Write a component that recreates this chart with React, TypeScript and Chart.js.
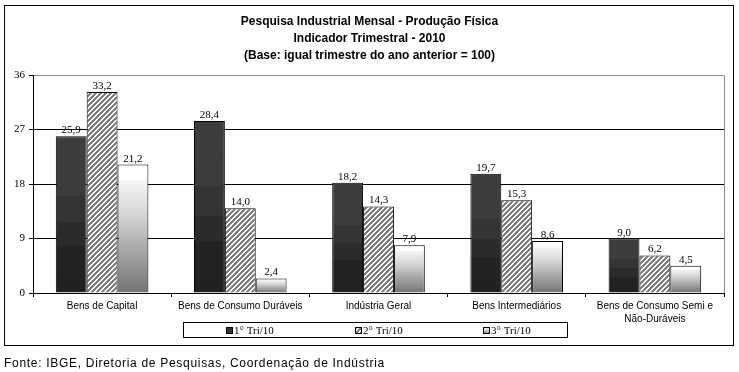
import React, { useEffect, useRef } from 'react';
import { Chart, registerables } from 'chart.js';

Chart.register(...registerables);

// ---- data ----
const categories: (string | string[])[] = [
  'Bens de Capital',
  'Bens de Consumo Duráveis',
  'Indústria Geral',
  'Bens Intermediários',
  ['Bens de Consumo Semi e', 'Não-Duráveis'],
];
const seriesNames = ['1° Tri/10', '2° Tri/10', '3° Tri/10'];
const tri1 = [25.9, 28.4, 18.2, 19.7, 9.0];
const tri2 = [33.2, 14.0, 14.3, 15.3, 6.2];
const tri3 = [21.2, 2.4, 7.9, 8.6, 4.5];
const yTicks = [0, 9, 18, 27, 36];
const titleLines = [
  'Pesquisa Industrial Mensal - Produção Física',
  'Indicador Trimestral - 2010',
  '(Base: igual trimestre do ano anterior = 100)',
];
const sourceNote = 'Fonte: IBGE, Diretoria de Pesquisas, Coordenação de Indústria';

// ---- styles ----
const darkStops: [number, string][] = [
  [0, '#212121'], [0.3, '#232323'], [0.301, '#2b2b2b'], [0.45, '#2b2b2b'],
  [0.451, '#343434'], [0.62, '#343434'], [0.621, '#3c3c3c'], [1, '#3d3d3d'],
];
const lightStops: [number, string][] = [
  [0, '#747474'], [0.3, '#a2a2a2'], [0.6, '#d4d4d4'], [0.88, '#f6f6f6'], [0.881, '#ffffff'], [1, '#ffffff'],
];

function makeHatch(): CanvasPattern | string {
  const n = 5;
  const c = document.createElement('canvas');
  c.width = n;
  c.height = n;
  const g = c.getContext('2d');
  if (!g) return '#aaa';
  for (let y = 0; y < n; y++) {
    for (let x = 0; x < n; x++) {
      g.fillStyle = (x + y) % n < 2 ? '#ffffff' : '#808080';
      g.fillRect(x, y, 1, 1);
    }
  }
  const p = g.createPattern(c, 'repeat');
  return p || '#aaa';
}

function barGradient(stops: [number, string][], fallback: string) {
  return (ctx: any) => {
    const chart = ctx.chart;
    const y = chart.scales && chart.scales.y;
    if (!y || typeof ctx.raw !== 'number') return fallback;
    const top = y.getPixelForValue(ctx.raw);
    const base = y.getPixelForValue(0);
    if (!isFinite(top) || !isFinite(base) || top === base) return fallback;
    const g = chart.ctx.createLinearGradient(0, base, 0, top);
    stops.forEach(([o, c]) => g.addColorStop(o, c));
    return g;
  };
}

const fmt = (v: number) => v.toFixed(1).replace('.', ',');

export default function App() {
  const ref = useRef<HTMLCanvasElement | null>(null);

  useEffect(() => {
    const canvas = ref.current;
    if (!canvas) return;
    const hatch = makeHatch();

    const decor = {
      id: 'decor',
      beforeDraw(chart: any) {
        const c = chart.ctx;
        c.save();
        c.fillStyle = '#fff';
        c.fillRect(0, 0, chart.width, chart.height);
        c.restore();
      },
      afterDatasetsDraw(chart: any) {
        const c = chart.ctx;
        c.save();
        c.font = '11px "Liberation Serif", serif';
        c.fillStyle = '#000';
        c.textAlign = 'center';
        c.textBaseline = 'alphabetic';
        chart.data.datasets.forEach((ds: any, di: number) => {
          const meta = chart.getDatasetMeta(di);
          meta.data.forEach((el: any, i: number) => {
            c.fillText(fmt(ds.data[i]), el.x, el.y - 3);
          });
        });
        c.restore();
      },
      afterDraw(chart: any) {
        const c = chart.ctx;
        const a = chart.chartArea;
        c.save();
        // plot right border
        c.strokeStyle = '#888';
        c.lineWidth = 1;
        c.beginPath();
        c.moveTo(Math.round(a.right) + 0.5, Math.round(a.top) + 0.5);
        c.lineTo(Math.round(a.right) + 0.5, Math.round(a.bottom));
        c.stroke();
        // outer frame
        c.strokeStyle = '#000';
        c.strokeRect(4.5, 5.5, 729, 340);
        // title
        c.fillStyle = '#000';
        c.textAlign = 'center';
        c.textBaseline = 'alphabetic';
        c.font = 'bold 12px "Liberation Sans Narrow", "Liberation Sans", sans-serif';
        titleLines.forEach((t, i) => c.fillText(t, 369.5, 25 + i * 17));
        // legend
        const bx = 183, by = 322, bw = 384, bh = 15;
        c.strokeStyle = '#000';
        c.strokeRect(bx + 0.5, by + 0.5, bw, bh);
        const fills = [
          '#333333',
          hatch,
          (() => {
            const g = c.createLinearGradient(0, 334, 0, 328);
            g.addColorStop(0, '#8a8a8a');
            g.addColorStop(1, '#f0f0f0');
            return g;
          })(),
        ];
        c.font = '11px "Liberation Serif", serif';
        c.textAlign = 'left';
        c.textBaseline = 'middle';
        seriesNames.forEach((n, i) => {
          const mx = bx + 43 + i * 128.5;
          c.fillStyle = fills[i] as any;
          c.fillRect(Math.round(mx), 327, 7, 7);
          c.strokeStyle = '#000';
          c.strokeRect(Math.round(mx) + 0.5, 327.5, 6, 6);
          c.fillStyle = '#000';
          c.fillText(n, Math.round(mx) + 8, 331);
        });
        // footnote
        c.font = '12px "Liberation Sans", Arial, sans-serif';
        c.textAlign = 'left';
        c.textBaseline = 'alphabetic';
        try {
          (c as any).letterSpacing = '0.7px';
        } catch (e) {
          /* ignore */
        }
        c.fillText(sourceNote, 4, 367);
        c.restore();
      },
    };

    const chart = new Chart(canvas, {
      type: 'bar',
      data: {
        labels: categories as any,
        datasets: [
          {
            label: seriesNames[0],
            data: tri1,
            backgroundColor: barGradient(darkStops, '#333') as any,
            borderColor: '#000',
            borderWidth: 1,
          },
          {
            label: seriesNames[1],
            data: tri2,
            backgroundColor: hatch as any,
            borderColor: '#000',
            borderWidth: 1,
          },
          {
            label: seriesNames[2],
            data: tri3,
            backgroundColor: barGradient(lightStops, '#ddd') as any,
            borderColor: '#000',
            borderWidth: 1,
          },
        ],
      },
      options: {
        responsive: false,
        animation: false,
        devicePixelRatio: 1,
        categoryPercentage: 0.67,
        barPercentage: 1.0,
        layout: { padding: { left: 4, right: 15, top: 75, bottom: 49 } },
        plugins: {
          legend: { display: false },
          title: { display: false },
          tooltip: { enabled: false },
        },
        scales: {
          x: {
            offset: true,
            grid: {
              display: true,
              drawOnChartArea: false,
              drawTicks: true,
              tickLength: 4,
              color: '#000',
              offset: true,
            },
            border: { display: true, color: '#000' },
            ticks: {
              font: { family: '"Liberation Sans", Arial, sans-serif', size: 10, lineHeight: 1.3 },
              color: '#000',
              padding: 3,
              maxRotation: 0,
              autoSkip: false,
            },
            afterFit: (s: any) => {
              s.height = 30;
            },
          },
          y: {
            min: 0,
            max: 36,
            afterBuildTicks: (s: any) => {
              s.ticks = yTicks.map((v) => ({ value: v }));
            },
            grid: {
              color: (ctx: any) => (ctx.tick && ctx.tick.value === 36 ? '#8c8c8c' : '#000'),
              tickColor: '#000',
              tickLength: 4,
            },
            border: { display: true, color: '#000' },
            ticks: {
              font: { family: '"Liberation Serif", serif', size: 11 },
              color: '#000',
              padding: 4,
            },
            afterFit: (s: any) => {
              s.width = 29;
            },
          },
        },
      },
      plugins: [decor],
    });

    return () => chart.destroy();
  }, []);

  return (
    <div style={{ position: 'fixed', left: 0, top: 0, width: 739, height: 372, background: '#fff' }}>
      <canvas ref={ref} width={739} height={372} style={{ display: 'block', width: 739, height: 372 }} />
    </div>
  );
}
